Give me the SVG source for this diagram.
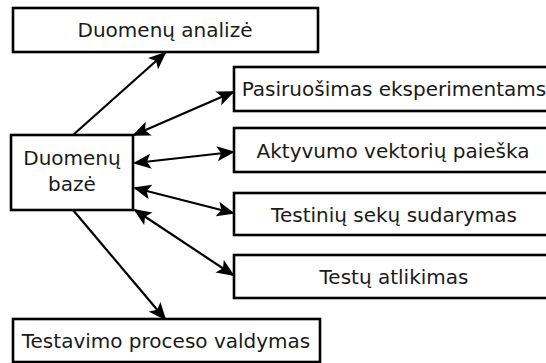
<svg xmlns="http://www.w3.org/2000/svg" width="546" height="363" viewBox="0 0 546 363">
<style>
.box{fill:#fff;stroke:#000;stroke-width:2.6}
.lbl{font-family:"DejaVu Sans",Verdana,sans-serif;font-size:20px;fill:#1a1a1a;text-anchor:middle}
.con{stroke:#000;stroke-width:2.2;fill:none;marker-end:url(#ah)}
.bi{marker-start:url(#ah)}
</style>
<defs>
<marker id="ah" markerUnits="userSpaceOnUse" markerWidth="19" markerHeight="16" refX="16" refY="7.5" orient="auto-start-reverse" viewBox="0 0 19 15">
<path d="M0,0 L18,7.5 L0,15 L4,7.5 z" fill="#000"/>
</marker>
</defs>
<rect width="546" height="363" fill="#fff"/>
<g id="connectors">
<line class="con" x1="73" y1="135" x2="165" y2="53"/>
<line class="con bi" x1="134" y1="135" x2="233" y2="92"/>
<line class="con bi" x1="135" y1="163" x2="233" y2="152"/>
<line class="con bi" x1="135" y1="188" x2="233" y2="213"/>
<line class="con bi" x1="135" y1="210" x2="233" y2="275"/>
<line class="con" x1="73" y1="210" x2="165" y2="319"/>
</g>
<g id="node-analize">
<rect class="box" x="13" y="8" width="305" height="44"/>
<text class="lbl" x="165" y="37">Duomenų analizė</text>
</g>
<g id="node-baze">
<rect class="box" x="11" y="135" width="122" height="75"/>
<text class="lbl" x="72" y="165">Duomenų</text>
<text class="lbl" x="72" y="191">bazė</text>
</g>
<g id="node-pasiruosimas">
<rect class="box" x="234" y="67" width="321" height="44"/>
<text class="lbl" x="394" y="96">Pasiruošimas eksperimentams</text>
</g>
<g id="node-aktyvumo">
<rect class="box" x="234" y="128" width="321" height="44"/>
<text class="lbl" x="393" y="158">Aktyvumo vektorių paieška</text>
</g>
<g id="node-testiniu">
<rect class="box" x="234" y="193" width="321" height="42"/>
<text class="lbl" x="394" y="222">Testinių sekų sudarymas</text>
</g>
<g id="node-testu">
<rect class="box" x="234" y="255" width="321" height="43"/>
<text class="lbl" x="394" y="284">Testų atlikimas</text>
</g>
<g id="node-testavimo">
<rect class="box" x="13" y="319" width="307" height="43"/>
<text class="lbl" x="166" y="348">Testavimo proceso valdymas</text>
</g>
</svg>
